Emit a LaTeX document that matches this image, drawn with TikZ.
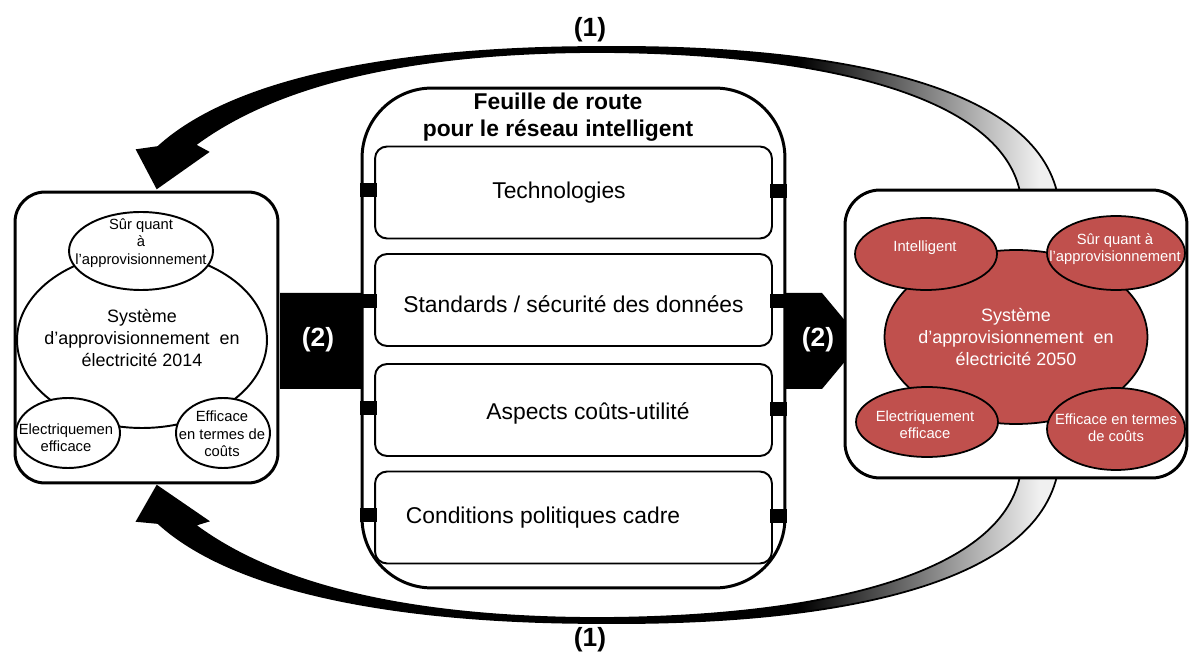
\documentclass[tikz,border=0pt]{standalone}
\usepackage{fontspec}
\setmainfont{Liberation Sans}
\usetikzlibrary{shapes.geometric}
\definecolor{sysred}{HTML}{C0504D}
\pgfdeclarehorizontalshading{fadeblack}{100bp}{color(0bp)=(black); color(25bp)=(black);
  color(61bp)=(black); color(74bp)=(black!6); color(100bp)=(black!6)}

\begin{document}
\begin{tikzpicture}[x=0.02cm, y=-0.02cm,
  panel/.style={draw, line width=1.7pt, rounded corners=#1, fill=white, inner sep=0pt},
  topic/.style={draw, line width=1.1pt, rounded corners=0.24cm, fill=white,
    minimum width=7.94cm, minimum height=1.84cm, inner sep=0pt},
  tab/.style={fill=black, minimum width=0.34cm, minimum height=0.27cm, inner sep=0pt},
  ring/.style={ellipse, draw, line width=1.1pt, fill=white, inner sep=0pt},
  redring/.style={ellipse, draw, line width=1pt, fill=sysred, inner sep=0pt},
  bigtxt/.style={align=center, font=\fontsize{10.2}{12.8}\selectfont},
  smalltxt/.style={align=center, font=\fontsize{8.4}{9.9}\selectfont},
  topictxt/.style={font=\fontsize{13}{15.5}\selectfont},
  num/.style={font=\fontsize{15}{18}\selectfont\bfseries},
  backarrow/.style={draw=black, line width=1pt, shade, shading=fadeblack}]
\useasboundingbox (0,0) rectangle (1191,662);
% curved arrows (1)
\path[backarrow] (1020,192) .. controls (1000,95) and (820,53) .. (600,52)
  .. controls (430,52) and (285,78) .. (195,145) -- (208,152) -- (157,188) -- (137,150)
  -- (158,147) .. controls (240,72) and (420,47) .. (600,47)
  .. controls (820,45) and (1030,80) .. (1057,192) -- cycle;
\path[backarrow] (1020,476) .. controls (1000,575) and (820,617) .. (600,618)
  .. controls (430,618) and (285,592) .. (195,525) -- (208,521) -- (157,486) -- (137,521)
  -- (158,523) .. controls (240,598) and (420,623) .. (600,623)
  .. controls (820,625) and (1030,590) .. (1057,476) -- cycle;
\node[num] (loopup) at (590,30) {(1)};
\node[num] (loopdown) at (590,640) {(1)};
% block arrow (2)
\fill (280,293) -- (822,293) -- (862,341) -- (822,389) -- (280,389) -- cycle;
\node[num, text=white] (stepin) at (318,340) {(2)};
\node[num, text=white] (stepout) at (818,340) {(2)};
% roadmap
\node[panel=1.4cm, minimum width=8.46cm, minimum height=10cm] (road) at (573.5,338) {};
\node[align=center, font=\fontsize{13}{15.3}\selectfont\bfseries] (roadtitle) at (558,117)
  {Feuille de route\\pour le réseau intelligent};
\foreach \y/\n in {192.5/tech, 300/std, 410/cost, 517.5/pol}
  \node[topic] (\n) at (573.5,\y) {};
\foreach \y [count=\i] in {190,301,408,515}
  \node[tab] (tabl\i) at (368,\y) {};
\foreach \y [count=\i] in {191,301,409,516}
  \node[tab] (tabr\i) at (778,\y) {};
\node[topictxt] (techtxt) at ([xshift=-0.29cm]tech) {Technologies};
\node[topictxt] (stdtxt) at ([yshift=-0.08cm]std) {Standards / sécurité des données};
\node[topictxt] (costtxt) at ([xshift=0.29cm, yshift=-0.06cm]cost) {Aspects coûts-utilité};
\node[topictxt] (poltxt) at ([xshift=-0.61cm]pol) {Conditions politiques cadre};
% system 2014
\node[panel=0.6cm, minimum width=5.26cm, minimum height=5.82cm] (now) at (146.5,337.5) {};
\node[ring, minimum width=5cm, minimum height=3.52cm] (nowsys) at (142,340) {};
\node[ring, minimum width=2.88cm, minimum height=1.56cm] (nowsafe) at (141,251) {};
\node[ring, minimum width=2.08cm, minimum height=1.4cm] (nowelec) at (68,433) {};
\node[ring, minimum width=1.88cm, minimum height=1.4cm] (nowcost) at (223,433) {};
\node[bigtxt] (nowsystxt) at (142,338) {Système\\d’approvisionnement~ en\\électricité 2014};
\node[smalltxt] (nowsafetxt) at (141,243) {Sûr quant\\à\\l’approvisionnement};
\node[smalltxt] (nowelectxt) at (66,438) {Electriquemen\\efficace};
\node[smalltxt] (nowcosttxt) at (222,434) {Efficace\\en termes de\\coûts};
% system 2050
\node[panel=0.7cm, minimum width=6.84cm, minimum height=5.76cm] (future) at (1016,334) {};
\node[redring, minimum width=5.26cm, minimum height=3.48cm] (futsys) at (1016,337) {};
\node[redring, minimum width=2.84cm, minimum height=1.44cm] (futsmart) at (926,254) {};
\node[redring, minimum width=2.76cm, minimum height=1.48cm] (futsafe) at (1116,253) {};
\node[redring, minimum width=2.84cm, minimum height=1.4cm] (futelec) at (927,422) {};
\node[redring, minimum width=2.76cm, minimum height=1.64cm] (futcost) at (1116,429) {};
\node[bigtxt, text=white] (futsystxt) at (1016,337) {Système\\d’approvisionnement~ en\\électricité 2050};
\node[smalltxt, text=white] (futsmarttxt) at (925,248) {Intelligent};
\node[smalltxt, text=white] (futsafetxt) at (1115,249) {Sûr quant à\\l’approvisionnement};
\node[smalltxt, text=white] (futelectxt) at (925,425) {Electriquement\\efficace};
\node[smalltxt, text=white] (futcosttxt) at (1116,428) {Efficace en termes\\de coûts};
\end{tikzpicture}
\end{document}
